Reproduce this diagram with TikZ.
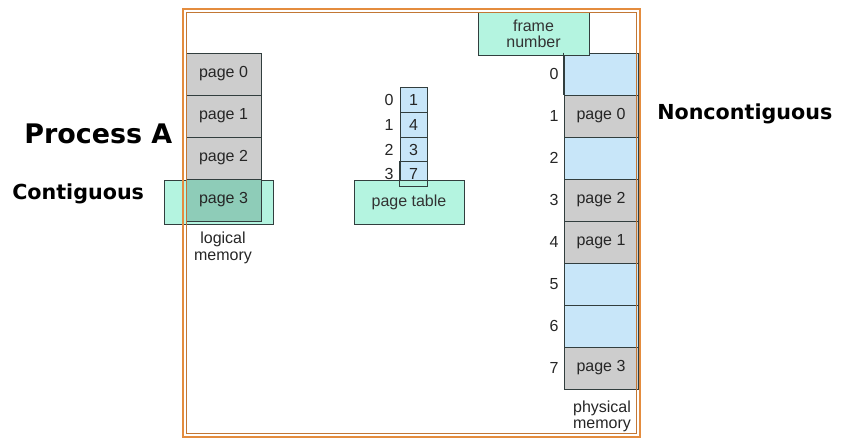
\documentclass[tikz,border=0pt]{standalone}
\usepackage{fontspec}
\setmainfont{Liberation Sans}
\newfontfamily\boldfont{DejaVu Sans}
\definecolor{pgray}{RGB}{205,205,205}
\definecolor{pblue}{RGB}{200,230,249}
\definecolor{mint}{RGB}{180,244,224}
\definecolor{mintdark}{RGB}{142,204,184}
\definecolor{edge}{RGB}{50,62,62}
\definecolor{frameor}{RGB}{228,140,62}
\begin{document}
\begin{tikzpicture}[x=0.75pt,y=-0.75pt,
  lbl/.style={font=\fontsize{12}{13.5}\selectfont, inner sep=0pt, text=black!85},
  logbox/.style={draw=edge, line width=0.6pt, fill=pgray, minimum width=56.25pt, minimum height=31.5pt, inner sep=0pt, font=\fontsize{12}{13.5}\selectfont, text=black!85},
  physbox/.style={draw=edge, line width=0.6pt, minimum width=55.5pt, minimum height=31.5pt, inner sep=0pt, font=\fontsize{12}{13.5}\selectfont, text=black!85},
  cellbox/.style={draw=edge, line width=0.6pt, fill=pblue, minimum width=20.25pt, minimum height=18.75pt, inner sep=0pt, font=\fontsize{12}{13.5}\selectfont, text=black!85},
  hlbox/.style={draw=edge, line width=0.6pt, fill=mint, inner sep=0pt, align=center, font=\fontsize{12}{13.5}\selectfont, text=black!80},
  bigtitle/.style={font=\boldfont\bfseries\fontsize{20.2}{22}\selectfont, inner sep=0pt, anchor=base west},
  subtitle/.style={font=\boldfont\bfseries\fontsize{15.5}{17}\selectfont, inner sep=0pt, anchor=base west}
]
\useasboundingbox[fill=white] (0,0) rectangle (845,445);

% logical memory
\node[logbox] (lp0) at (223.5,74) {page 0};
\node[logbox] (lp1) at (223.5,116) {page 1};
\node[logbox] (lp2) at (223.5,158) {page 2};
\node[hlbox, minimum width=81.75pt, minimum height=33pt] (lhl) at (218.5,202) {};
\node[logbox, fill=mintdark] (lp3) at (223.5,200) {page 3};
\node[lbl, align=center] (lmem) at (223,248) {logical\\[-0.5pt]memory};

% page table
\node[cellbox] (c0) at (413.5,99.5) {1};
\node[cellbox] (c1) at (413.5,124.5) {4};
\node[cellbox] (c2) at (413.5,149.5) {3};
\node[cellbox] (c3) at (413.5,174) {7};
\node[hlbox, minimum width=82.5pt, minimum height=33pt] (pthl) at (409,202) {page table};
\draw[edge, line width=0.6pt] (c3.north west) rectangle (c3.south east);
\node[lbl] (i0) at (389,99.5) {0};
\node[lbl] (i1) at (389,124.5) {1};
\node[lbl] (i2) at (389,149.5) {2};
\node[lbl] (i3) at (389,174) {3};

% physical memory
\node[physbox, fill=pblue] (f0) at (601,74) {};
\node[physbox, fill=pgray] (f1) at (601,116) {page 0};
\node[physbox, fill=pblue] (f2) at (601,158) {};
\node[physbox, fill=pgray] (f3) at (601,200) {page 2};
\node[physbox, fill=pgray] (f4) at (601,242) {page 1};
\node[physbox, fill=pblue] (f5) at (601,284) {};
\node[physbox, fill=pblue] (f6) at (601,326) {};
\node[physbox, fill=pgray] (f7) at (601,368) {page 3};
\node[hlbox, minimum width=83.25pt, minimum height=32.25pt] (fnhl) at (533.5,33.5) {frame\\[-1.5pt]number};
\draw[edge, line width=0.6pt] (f0.north west) -- (f0.south west);
\foreach \k/\y in {0/74,1/116,2/158,3/200,4/242,5/284,6/326,7/368}{
  \node[lbl] (n\k) at (554,\y) {\k};
}
\node[lbl, align=center] (pmem) at (602,416) {physical\\[-1.5pt]memory};

% orange frame
\draw[frameor, line width=1.6pt] (183,9) rectangle (640,437);
\draw[frameor!85!black, line width=0.7pt] (186.5,12.5) rectangle (636.5,433.5);

% titles
\node[bigtitle] (procA) at (24,144) {Process A};
\node[subtitle] (contig) at (12,200) {Contiguous};
\node[subtitle] (noncontig) at (657,120) {Noncontiguous};
\end{tikzpicture}
\end{document}
